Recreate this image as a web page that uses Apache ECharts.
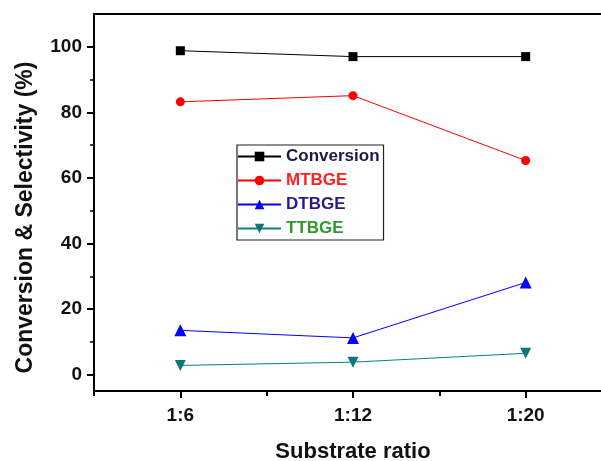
<!DOCTYPE html>
<html>
<head>
<meta charset="utf-8">
<script src="https://cdn.jsdelivr.net/npm/echarts@6/dist/echarts.min.js"></script>
<style>
html,body{margin:0;padding:0;background:#fff;}
#chart{width:601px;height:461px;}
</style>
</head>
<body>
<div id="chart"></div>
<script>
var categories = ['1:6', '1:12', '1:20'];
var conversion = [98.8, 97.0, 97.0];
var mtbge = [83.2, 85.1, 65.3];
var dtbge = [13.5, 11.2, 28.1];
var ttbge = [2.8, 3.8, 6.5];
var yTickValues = [0, 20, 40, 60, 80, 100];
var yMinorValues = [10, 30, 50, 70, 90];
var xTickValues = [0, 1, 2];
var xMinorValues = [-0.5, 0.5, 1.5, 2.5];

function pts(arr) { return arr.map(function (v, i) { return [i, v]; }); }

var FONT = '"Liberation Sans", Arial, sans-serif';
var chart = echarts.init(document.getElementById('chart'), null, {renderer: 'canvas'});
chart.setOption({
  animation: false,
  backgroundColor: '#fff',
  grid: {left: 94, top: 14, width: 518, height: 377, show: false,
    containLabel: false, outerBoundsMode: 'none'},
  legend: {
    left: 237, top: 145, orient: 'vertical',
    borderColor: '#222', borderWidth: 1.2,
    padding: [3, 4, 3, 0],
    itemWidth: 43, itemHeight: 12, itemGap: 7,
    textStyle: {fontFamily: FONT, fontSize: 17, fontWeight: 'bold'},
    data: [
      {name: 'Conversion', textStyle: {color: '#1a1a4a'}},
      {name: 'MTBGE', textStyle: {color: '#ff2020'}},
      {name: 'DTBGE', textStyle: {color: '#2a1a8a'}},
      {name: 'TTBGE', textStyle: {color: '#2e9a2e'}}
    ]
  },
  xAxis: [{
    type: 'value', min: -0.5, max: 2.5,
    name: 'Substrate ratio', nameLocation: 'middle', nameGap: 50,
    nameTextStyle: {fontFamily: FONT, fontSize: 22, fontWeight: 'bold', color: '#111'},
    axisLine: {show: true, onZero: false, lineStyle: {color: '#000', width: 2}},
    axisTick: {show: true, inside: false, length: 7, lineStyle: {color: '#000', width: 2}, customValues: xTickValues},
    axisLabel: {show: true, margin: 15, fontFamily: FONT, fontSize: 19, fontWeight: 'bold', color: '#111',
      customValues: xTickValues,
      formatter: function (v) { var i = Math.round(v); return categories[i] || ''; }},
    splitLine: {show: false}
  }, {
    type: 'value', min: -0.5, max: 2.5, position: 'bottom',
    axisLine: {show: false, onZero: false},
    axisTick: {show: true, inside: false, length: 5, lineStyle: {color: '#000', width: 2}, customValues: xMinorValues},
    axisLabel: {show: false},
    splitLine: {show: false}
  }, {
    type: 'value', min: -0.5, max: 2.5, position: 'top',
    axisLine: {show: true, onZero: false, lineStyle: {color: '#000', width: 2}},
    axisTick: {show: false},
    axisLabel: {show: false},
    splitLine: {show: false}
  }],
  yAxis: [{
    type: 'value', min: -5, max: 110,
    name: 'Conversion & Selectivity (%)', nameLocation: 'middle', nameGap: 57,
    nameTextStyle: {fontFamily: FONT, fontSize: 23, fontWeight: 'bold', color: '#111', padding: [0, 30, 0, 0]},
    axisLine: {show: true, onZero: false, lineStyle: {color: '#000', width: 2}},
    axisTick: {show: true, inside: false, length: 7, lineStyle: {color: '#000', width: 2}, customValues: yTickValues},
    axisLabel: {show: true, margin: 12, fontFamily: FONT, fontSize: 19, fontWeight: 'bold', color: '#111',
      customValues: yTickValues},
    splitLine: {show: false}
  }, {
    type: 'value', min: -5, max: 110, position: 'left',
    axisLine: {show: false, onZero: false},
    axisTick: {show: true, inside: false, length: 4, lineStyle: {color: '#000', width: 1.5}, customValues: yMinorValues},
    axisLabel: {show: false},
    splitLine: {show: false}
  }],
  series: [
    {name: 'Conversion', type: 'line', data: pts(conversion), symbol: 'rect', symbolSize: 9,
      lineStyle: {color: '#000', width: 1}, itemStyle: {color: '#000'}},
    {name: 'MTBGE', type: 'line', data: pts(mtbge), symbol: 'circle', symbolSize: 9,
      lineStyle: {color: '#ff0000', width: 1}, itemStyle: {color: '#ff0000'}},
    {name: 'DTBGE', type: 'line', data: pts(dtbge), symbol: 'triangle', symbolSize: 12,
      lineStyle: {color: '#0000ff', width: 1}, itemStyle: {color: '#0000ff'}},
    {name: 'TTBGE', type: 'line', data: pts(ttbge), symbol: 'triangle', symbolRotate: 180, symbolSize: 11,
      lineStyle: {color: '#0a8080', width: 1}, itemStyle: {color: '#0a7878'}}
  ]
});
</script>
</body>
</html>
